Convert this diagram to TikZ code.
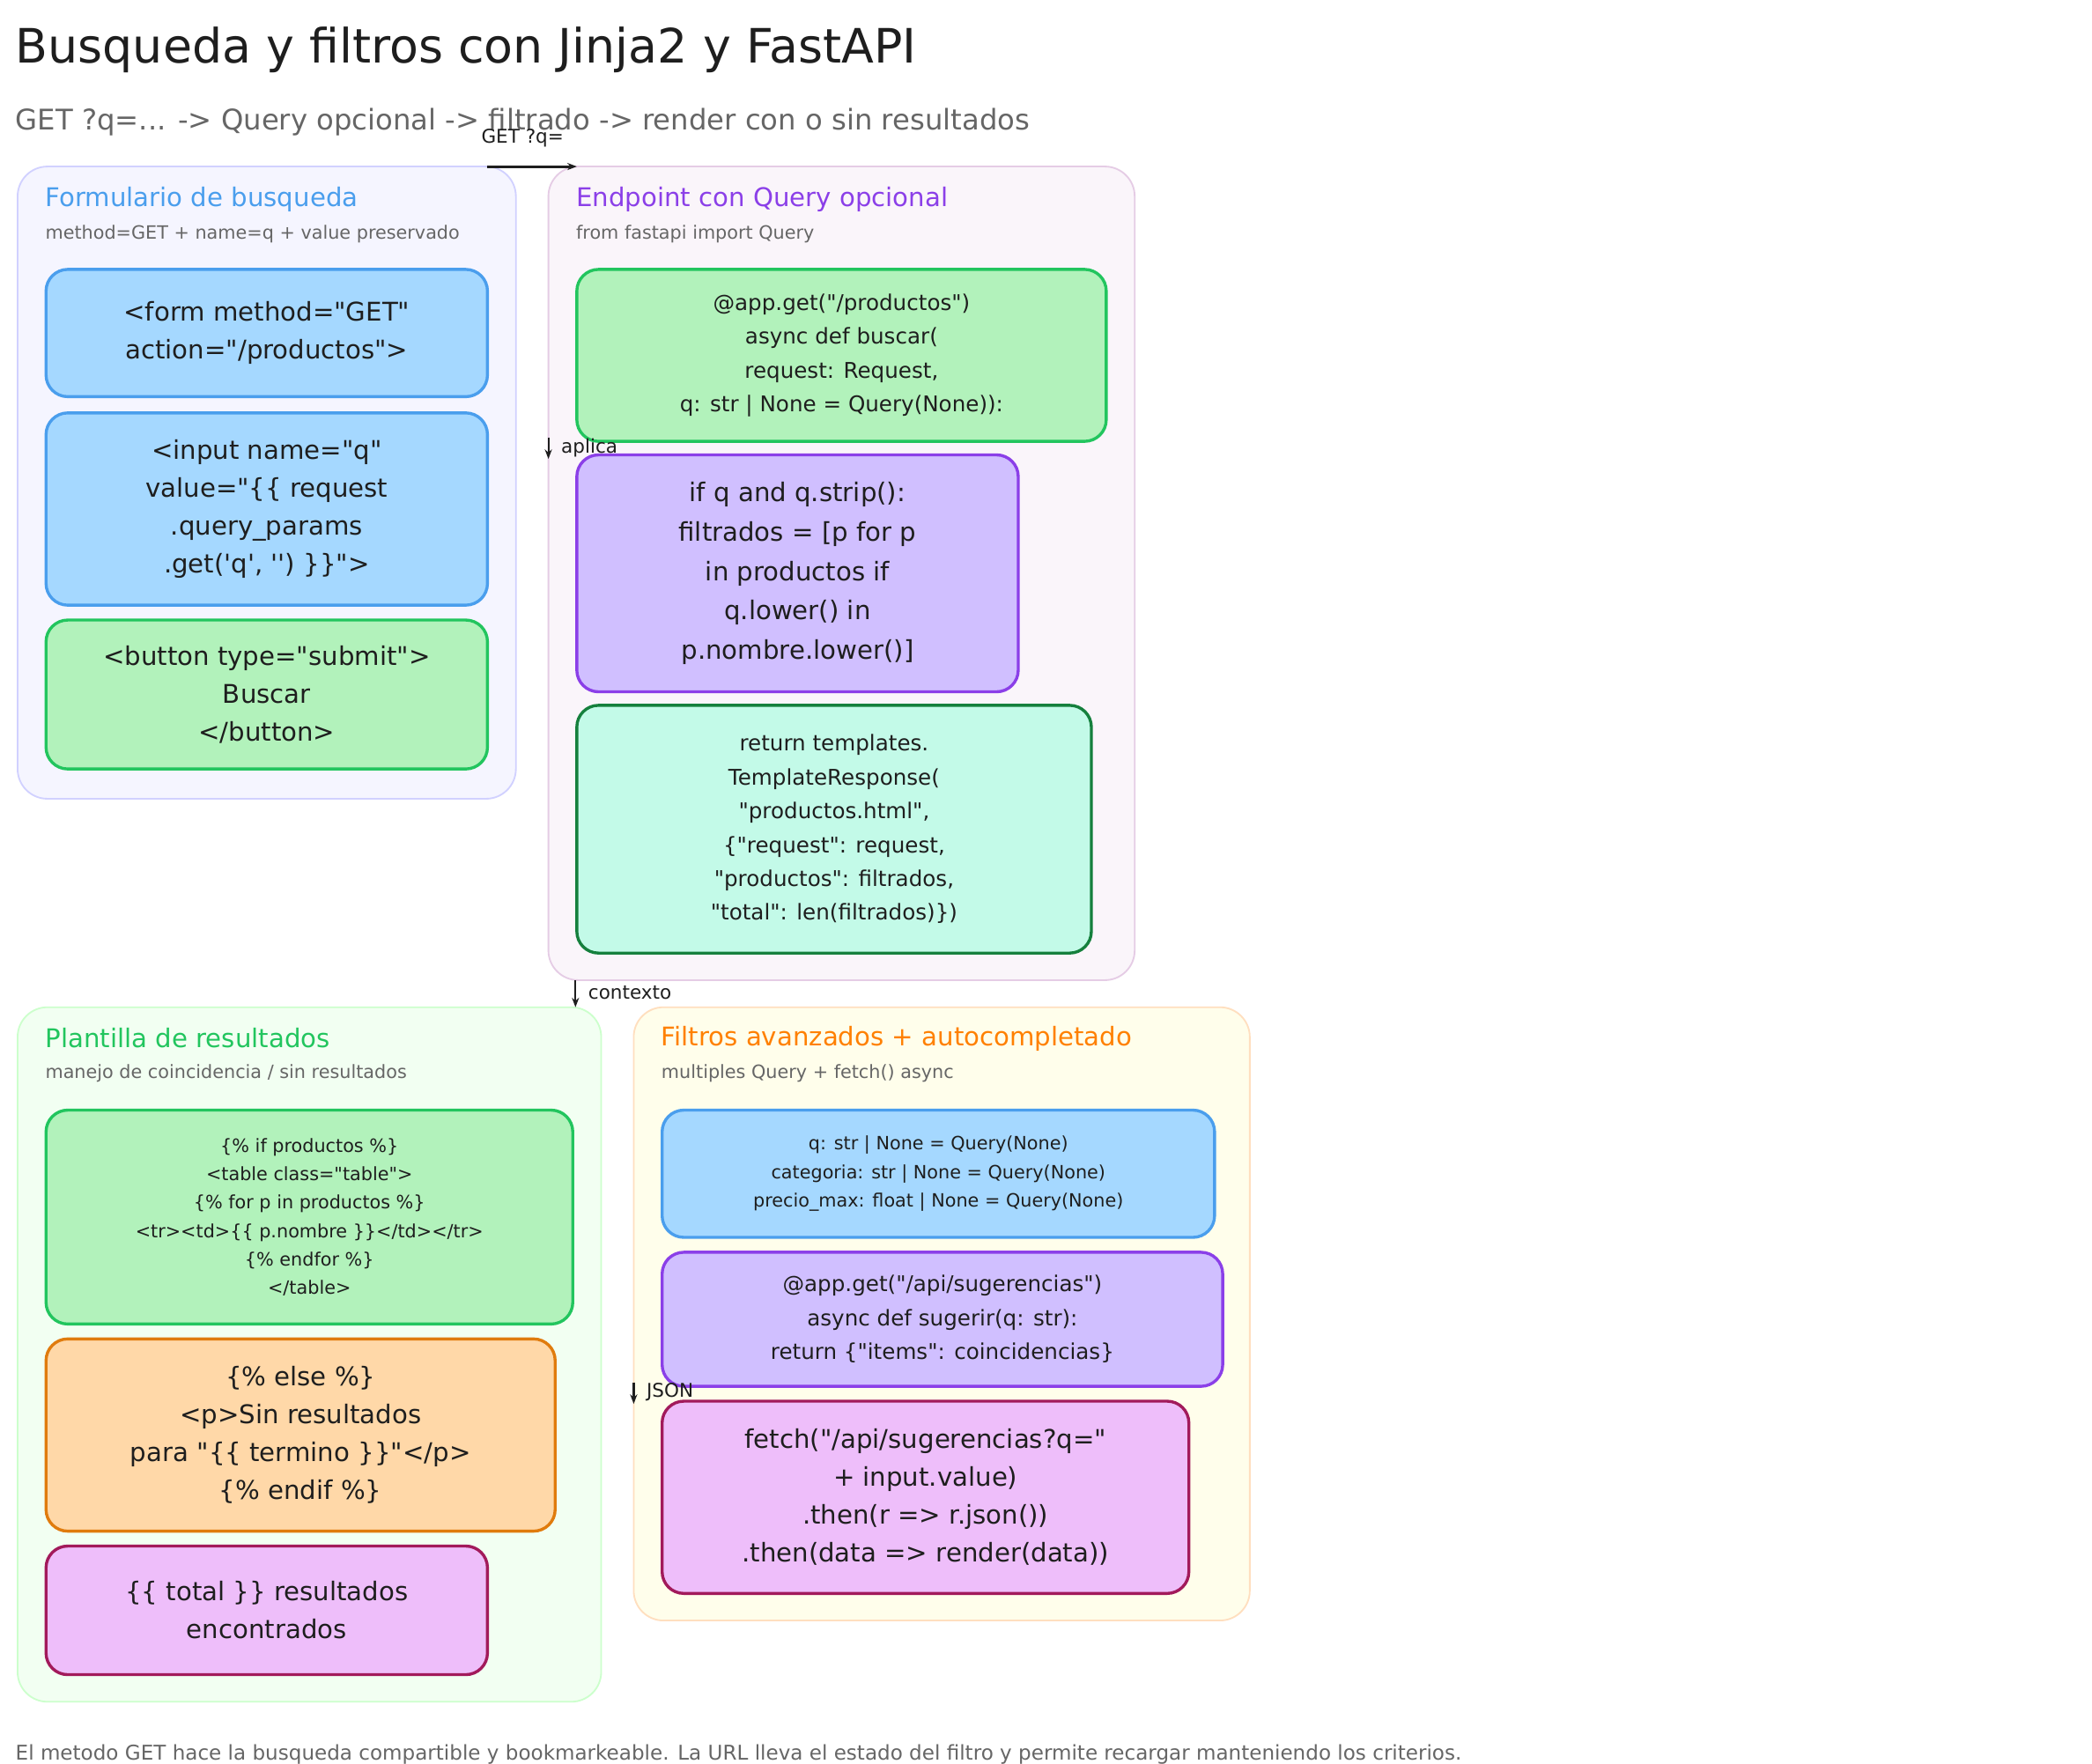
\documentclass[tikz,border=0pt]{standalone}
\usepackage{fontspec}
\defaultfontfeatures[\rmfamily,\sffamily]{}
\setmainfont{DejaVu Sans}
\usetikzlibrary{arrows.meta}
\definecolor{bluef}{HTML}{A5D8FF}\definecolor{blued}{HTML}{4A9EED}
\definecolor{greenf}{HTML}{B2F2BB}\definecolor{greend}{HTML}{22C55E}
\definecolor{purf}{HTML}{D0BFFF}\definecolor{purd}{HTML}{8B3FE8}
\definecolor{mintf}{HTML}{C3FAE8}\definecolor{mintd}{HTML}{15803D}
\definecolor{orf}{HTML}{FFD8A8}\definecolor{ord}{HTML}{E07B0D}
\definecolor{pkf}{HTML}{EEBEFA}\definecolor{pkd}{HTML}{A21A5B}
\definecolor{txt}{HTML}{1E1E1E}\definecolor{gr}{HTML}{666666}
\tikzset{
 grp/.style={draw, rounded corners=22pt, line width=1.2pt},
 box/.style={draw, rounded corners=16pt, line width=2.2pt, align=center, text=txt, inner sep=2pt},
 gt/.style={anchor=west, font=\fontsize{19}{24}\selectfont},
 gs/.style={anchor=west, text=gr, font=\fontsize{13.5}{18}\selectfont},
 lab/.style={anchor=west, font=\fontsize{14}{18}\selectfont, text=txt},
 arr/.style={-{Stealth[length=7pt]}, line width=1.4pt, draw=txt},
}
\begin{document}
\begin{tikzpicture}[x=1pt,y=-1pt]
\useasboundingbox[fill=white] (0,0) rectangle (1545,1303);
\node[anchor=west, font=\fontsize{35}{40}\selectfont, text=txt] (title) at (8,37) {Busqueda y filtros con Jinja2 y FastAPI};
\node[anchor=west, font=\fontsize{21}{26}\selectfont, text=gr] (sub) at (8,90) {GET ?q=... -> Query opcional -> filtrado -> render con o sin resultados};
% groups
\node[grp, fill=blue!4, draw=blue!18, minimum width=368pt, minimum height=467pt] (g1) at (197,356.5) {};
\node[grp, fill=violet!4, draw=violet!20, minimum width=433pt, minimum height=601pt] (g2) at (621.5,423.5) {};
\node[grp, fill=green!5, draw=green!20, minimum width=431pt, minimum height=513pt] (g3) at (228.5,1000.5) {};
\node[grp, fill=yellow!8, draw=orange!25, minimum width=455pt, minimum height=453pt] (g4) at (695.5,970.5) {};
\node[gt, text=blued] (t1) at (30,147) {Formulario de busqueda};
\node[gs] (s1) at (30,173) {method=GET + name=q + value preservado};
\node[gt, text=purd] (t2) at (422,147) {Endpoint con Query opcional};
\node[gs] (s2) at (422,173) {from fastapi import Query};
\node[gt, text=greend] (t3) at (30,767) {Plantilla de resultados};
\node[gs] (s3) at (30,793) {manejo de coincidencia / sin resultados};
\node[gt, text=orange] (t4) at (485,767) {Filtros avanzados + autocompletado};
\node[gs] (s4) at (485,793) {multiples Query + fetch() async};
% boxes
\node[box, fill=bluef, draw=blued, minimum width=326pt, minimum height=94pt, font=\fontsize{19}{28}\selectfont] (b1a) at (197,246) {<form method="GET"\\ action="/productos">};
\node[box, fill=bluef, draw=blued, minimum width=326pt, minimum height=142pt, font=\fontsize{19}{28}\selectfont] (b1b) at (197,376) {<input name="q"\\ value="\{\{ request\\ .query\_params\\ .get('q', '') \}\}">};
\node[box, fill=greenf, draw=greend, minimum width=326pt, minimum height=110pt, font=\fontsize{19}{28}\selectfont] (b1c) at (197,513) {<button type="submit">\\ Buscar\\ </button>};
\node[box, fill=greenf, draw=greend, minimum width=391pt, minimum height=127pt, font=\fontsize{16}{25}\selectfont] (b2a) at (621.5,262.5) {@app.get("/productos")\\ async def buscar(\\ request: Request,\\ q: str | None = Query(None)):};
\node[box, fill=purf, draw=purd, minimum width=326pt, minimum height=175pt, font=\fontsize{19}{29}\selectfont] (b2b) at (589,423.5) {if q and q.strip():\\ filtrados = [p for p\\ in productos if\\ q.lower() in\\ p.nombre.lower()]};
\node[box, fill=mintf, draw=mintd, minimum width=380pt, minimum height=183pt, font=\fontsize{16}{25}\selectfont] (b2c) at (616,612.5) {return templates.\\ TemplateResponse(\\ "productos.html",\\ \{"request": request,\\ "productos": filtrados,\\ "total": len(filtrados)\})};
\node[box, fill=greenf, draw=greend, minimum width=389pt, minimum height=158pt, font=\fontsize{13.5}{21}\selectfont] (b3a) at (228.5,899) {\{\% if productos \%\}\\ <table class="table">\\ \{\% for p in productos \%\}\\ <tr><td>\{\{ p.nombre \}\}</td></tr>\\ \{\% endfor \%\}\\ </table>};
\node[box, fill=orf, draw=ord, minimum width=376pt, minimum height=142pt, font=\fontsize{19}{28}\selectfont] (b3b) at (222,1060) {\{\% else \%\}\\ <p>Sin resultados\\ para "\{\{ termino \}\}"</p>\\ \{\% endif \%\}};
\node[box, fill=pkf, draw=pkd, minimum width=326pt, minimum height=95pt, font=\fontsize{19}{28}\selectfont] (b3c) at (197,1189.5) {\{\{ total \}\} resultados\\ encontrados};
\node[box, fill=bluef, draw=blued, minimum width=408pt, minimum height=94pt, font=\fontsize{13.5}{21}\selectfont] (b4a) at (693,867) {q: str | None = Query(None)\\ categoria: str | None = Query(None)\\ precio\_max: float | None = Query(None)};
\node[box, fill=purf, draw=purd, minimum width=414pt, minimum height=99pt, font=\fontsize{16}{25}\selectfont] (b4b) at (696,974.5) {@app.get("/api/sugerencias")\\ async def sugerir(q: str):\\ return \{"items": coincidencias\}};
\node[box, fill=pkf, draw=pkd, minimum width=389pt, minimum height=142pt, font=\fontsize{19}{28}\selectfont] (b4c) at (683.5,1106) {fetch("/api/sugerencias?q="\\ + input.value)\\ .then(r => r.json())\\ .then(data => render(data))};
% connectors
\coordinate (a1) at (360,123); \coordinate (a2) at (426,123);
\draw[arr, line width=2pt] (a1) -- (a2);
\node[lab] (la) at (352,102) {GET ?q=};
\coordinate (c1) at (405,323); \coordinate (c2) at (405,339);
\draw[arr] (c1) -- (c2); \node[lab] (lb) at (411,331) {aplica};
\coordinate (d1) at (425,724); \coordinate (d2) at (425,744);
\draw[arr] (d1) -- (d2); \node[lab] (lc) at (431,733) {contexto};
\coordinate (e1) at (468,1021); \coordinate (e2) at (468,1037);
\draw[arr] (e1) -- (e2); \node[lab] (ld) at (474,1028) {JSON};
\node[anchor=west, text=gr, font=\fontsize{15}{20}\selectfont] (foot) at (8,1296) {El metodo GET hace la busqueda compartible y bookmarkeable. La URL lleva el estado del filtro y permite recargar manteniendo los criterios.};
\end{tikzpicture}
\end{document}
